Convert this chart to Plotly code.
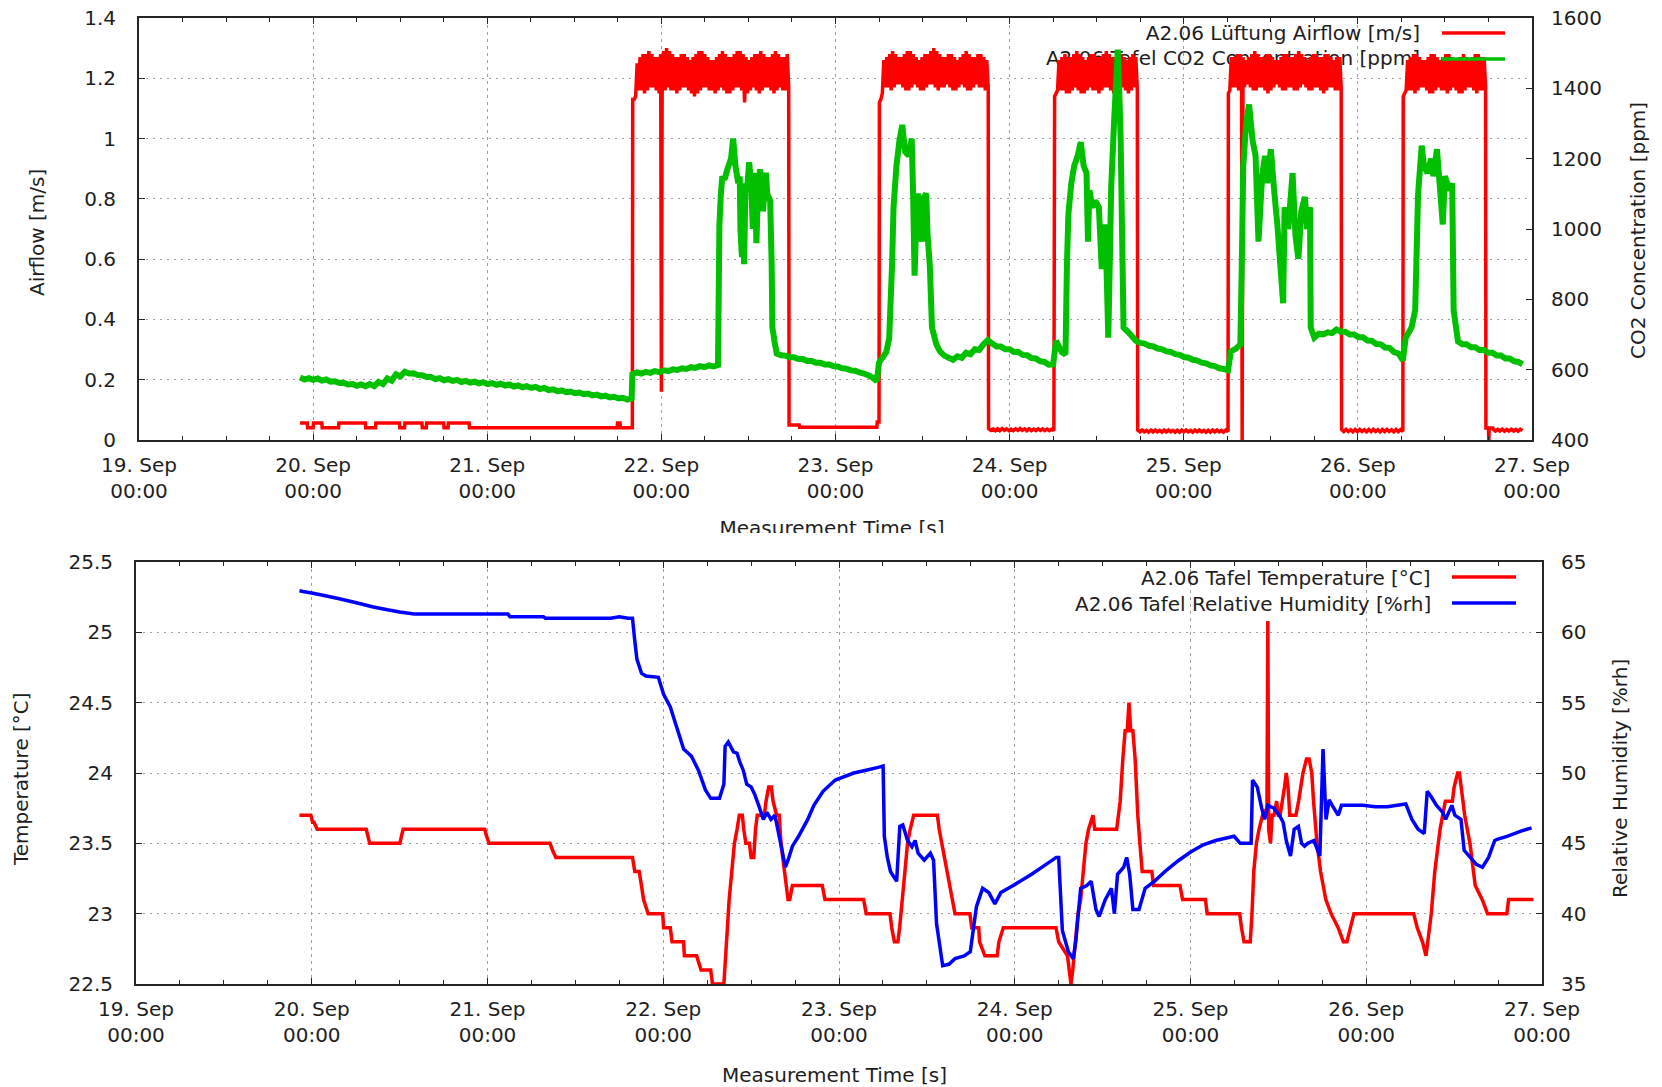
import numpy as np
import pandas as pd
import plotly.graph_objects as go

START = pd.Timestamp("2016-09-19 00:00:00")
END = pd.Timestamp("2016-09-27 00:00:00")

# ================= top panel: airflow (hours since 19 Sep 00:00, m/s) =================
# explicit points (steps, transitions, short dips)
AIRFLOW_POINTS = [
    (22.2, 0.056), (23.2, 0.056), (23.25, 0.041), (24.0, 0.041), (24.05, 0.056), (25.2, 0.056),
    (25.25, 0.041), (27.5, 0.041), (27.55, 0.056), (31.2, 0.056), (31.25, 0.041), (32.6, 0.041),
    (32.65, 0.056), (35.9, 0.056), (35.95, 0.041), (36.6, 0.041), (36.65, 0.056), (39.0, 0.056),
    (39.05, 0.041), (39.6, 0.041), (39.65, 0.056), (42.0, 0.056), (42.05, 0.041), (42.6, 0.041),
    (42.65, 0.056), (45.5, 0.056), (45.55, 0.041), (65.9, 0.041), (65.95, 0.056), (66.3, 0.056),
    (66.35, 0.041), (68.0, 0.041),
    (72.0, 0.16),
    (89.6, 0.05), (91.0, 0.05), (91.05, 0.042), (101.7, 0.042), (101.75, 0.06), (102.0, 0.06),
    (152.05, 0.0),
    (185.65, 0.04), (186.0, 0.04), (186.05, 0.0), (186.1, 0.04), (186.6, 0.04),
]
# noisy stretches: start hour, end hour, lead-in values, then alternating upper / lower excursions
AIRFLOW_SEG_START_H = [68.05, 102.05, 117.1, 126.2, 137.65, 150.15, 165.75, 174.25, 186.65]
AIRFLOW_SEG_END_H = [89.55, 117.05, 126.1, 137.6, 150.1, 165.7, 174.2, 185.6, 190.7]
AIRFLOW_SEG_LEAD = [[1.13, 1.13, 1.14], [1.12, 1.13, 1.15], [], [1.14, 1.15, 1.16], [],
                    [1.15, 1.16], [], [1.14, 1.15, 1.16], []]
AIRFLOW_SEG_HIGH = [
    [1.25, 1.27, 1.28, 1.28, 1.29, 1.28, 1.27, 1.27, 1.28, 1.29, 1.30, 1.29, 1.28, 1.27, 1.27, 1.28, 1.28, 1.27,
     1.26, 1.27, 1.28, 1.29, 1.29, 1.28, 1.27, 1.26, 1.26, 1.27, 1.28, 1.29, 1.28, 1.27, 1.27, 1.28, 1.29, 1.29,
     1.28, 1.27, 1.26, 1.27, 1.28, 1.28, 1.29, 1.28, 1.27, 1.27, 1.28, 1.29, 1.28, 1.27, 1.27, 1.28],
    [1.26, 1.27, 1.28, 1.29, 1.28, 1.27, 1.27, 1.28, 1.29, 1.29, 1.28, 1.27, 1.26, 1.27, 1.28, 1.28, 1.29, 1.30,
     1.29, 1.28, 1.27, 1.27, 1.28, 1.28, 1.27, 1.26, 1.27, 1.28, 1.29, 1.28, 1.27, 1.27, 1.28, 1.28, 1.27, 1.26],
    [0.038, 0.037, 0.037, 0.038, 0.037, 0.036, 0.037, 0.038, 0.037, 0.037, 0.036, 0.037, 0.037, 0.036, 0.036],
    [1.26, 1.27, 1.28, 1.27, 1.27, 1.28, 1.29, 1.28, 1.27, 1.26, 1.27, 1.28, 1.28, 1.27, 1.27, 1.28, 1.29, 1.28,
     1.27, 1.27, 1.28, 1.28, 1.27, 1.26, 1.27, 1.28, 1.27],
    [0.033, 0.033, 0.032, 0.033, 0.033, 0.032, 0.033, 0.033, 0.032, 0.032, 0.033, 0.033, 0.032, 0.033, 0.033,
     0.032, 0.032, 0.033, 0.033, 0.032, 0.033],
    [1.27, 1.27, 1.28, 1.28, 1.27, 1.26, 1.27, 1.28, 1.29, 1.28, 1.27, 1.27, 1.28, 1.28, 1.27, 1.26, 1.26, 1.27,
     1.28, 1.28, 1.27, 1.27, 1.28, 1.29, 1.28, 1.27, 1.26, 1.27, 1.28, 1.28, 1.27, 1.27, 1.28, 1.28, 1.27, 1.26,
     1.27, 1.27],
    [0.035, 0.035, 0.034, 0.035, 0.035, 0.034, 0.035, 0.035, 0.034, 0.035, 0.035, 0.034, 0.035, 0.035],
    [1.26, 1.27, 1.28, 1.28, 1.27, 1.26, 1.26, 1.27, 1.28, 1.28, 1.27, 1.26, 1.27, 1.28, 1.28, 1.27, 1.26, 1.26,
     1.27, 1.28, 1.27, 1.26, 1.27, 1.28, 1.28, 1.27, 1.27],
    [0.036, 0.035, 0.036, 0.035, 0.036, 0.035, 0.036],
]
AIRFLOW_SEG_LOW = [
    [1.16, 1.16, 1.15, 1.16, 1.17, 1.17, 1.16, 1.15, 1.15, 1.16, 1.17, 1.16, 1.16, 1.15, 1.16, 1.17, 1.17, 1.16,
     1.15, 1.14, 1.15, 1.16, 1.17, 1.17, 1.16, 1.16, 1.15, 1.16, 1.17, 1.16, 1.15, 1.15, 1.16, 1.17, 1.17, 1.16,
     1.12, 1.15, 1.16, 1.17, 1.16, 1.15, 1.16, 1.17, 1.17, 1.16, 1.15, 1.16, 1.17, 1.16, 1.16, 1.17],
    [1.17, 1.17, 1.16, 1.17, 1.18, 1.18, 1.17, 1.16, 1.16, 1.17, 1.18, 1.17, 1.16, 1.16, 1.17, 1.18, 1.18, 1.17,
     1.16, 1.17, 1.17, 1.18, 1.17, 1.16, 1.16, 1.17, 1.18, 1.17, 1.16, 1.16, 1.17, 1.18, 1.17, 1.17, 1.16, 1.17],
    [0.032, 0.031, 0.031, 0.032, 0.031, 0.031, 0.032, 0.032, 0.031, 0.031, 0.031, 0.032, 0.031, 0.031, 0.031],
    [1.16, 1.16, 1.15, 1.15, 1.16, 1.17, 1.16, 1.15, 1.15, 1.16, 1.17, 1.16, 1.16, 1.15, 1.16, 1.17, 1.17, 1.16,
     1.15, 1.16, 1.16, 1.17, 1.16, 1.15, 1.16, 1.17, 1.16],
    [0.027, 0.027, 0.026, 0.027, 0.027, 0.026, 0.027, 0.027, 0.026, 0.026, 0.027, 0.027, 0.026, 0.027, 0.027,
     0.026, 0.026, 0.027, 0.027, 0.026, 0.028],
    [1.17, 1.17, 1.16, 1.16, 1.17, 1.18, 1.17, 1.16, 1.16, 1.17, 1.17, 1.16, 1.15, 1.16, 1.17, 1.18, 1.17, 1.16,
     1.16, 1.17, 1.17, 1.16, 1.16, 1.17, 1.18, 1.17, 1.16, 1.16, 1.17, 1.17, 1.16, 1.15, 1.16, 1.17, 1.17, 1.16,
     1.16, 1.17],
    [0.028, 0.028, 0.027, 0.028, 0.028, 0.027, 0.028, 0.028, 0.027, 0.028, 0.028, 0.027, 0.028, 0.029],
    [1.16, 1.16, 1.15, 1.16, 1.17, 1.17, 1.16, 1.15, 1.15, 1.16, 1.17, 1.16, 1.16, 1.15, 1.16, 1.17, 1.16, 1.15,
     1.15, 1.16, 1.17, 1.17, 1.16, 1.15, 1.16, 1.16, 1.17],
    [0.030, 0.030, 0.029, 0.030, 0.030, 0.029, 0.031],
]

# ================= top panel: CO2 (hours, ppm) =================
CO2_POINTS = [
    (80.0, 1013), (80.2, 1100), (80.4, 1150), (80.7, 1140), (81.1, 1170), (81.6, 1200), (81.9, 1257),
    (82.2, 1180), (82.6, 1130), (82.8, 1150), (82.9, 1000), (83.1, 920), (83.2, 1080), (83.4, 900),
    (83.6, 1130), (83.8, 1110), (84.1, 1190), (84.4, 1120), (84.6, 1000), (84.9, 1160), (85.1, 960),
    (85.3, 1100), (85.6, 1170), (85.8, 1130), (86.0, 1050), (86.4, 1160), (86.6, 1100), (87.0, 1080),
    (87.2, 900), (87.3, 720), (87.6, 680),
    (102.0, 620), (103.0, 650), (103.4, 690), (103.8, 900), (104.0, 1062), (104.4, 1179), (104.8, 1250),
    (105.2, 1296), (105.6, 1220), (106.1, 1208), (106.5, 1257), (106.7, 1100), (106.9, 867), (107.1, 1000),
    (107.4, 1101), (107.6, 1050), (107.9, 964), (108.2, 1090), (108.5, 1101), (108.7, 980), (109.0, 896),
    (109.3, 720), (109.9, 672),
    (126.4, 682), (127.2, 650), (127.7, 643), (127.9, 900), (128.1, 1042), (128.5, 1130), (128.9, 1179),
    (129.4, 1210), (129.8, 1247), (130.2, 1180), (130.6, 1159), (130.8, 964), (131.0, 1110), (131.4, 1062),
    (131.8, 1080), (132.3, 1062), (132.7, 886), (133.2, 1013), (133.6, 691), (133.8, 900), (134.0, 1120),
    (134.4, 1305), (134.9, 1510), (135.1, 1400), (135.3, 1257), (135.7, 720), (136.6, 701),
    (150.5, 652), (151.2, 660), (151.8, 672),
    (152.0, 900), (152.2, 1179), (152.6, 1300), (153.0, 1354), (153.5, 1250), (153.9, 1208), (154.3, 964),
    (154.8, 1150), (155.2, 1208), (155.5, 1130), (156.0, 1227), (156.5, 1100), (156.9, 1013), (157.3, 900),
    (157.7, 789), (157.9, 1062), (158.4, 1000), (159.0, 1159), (159.4, 980), (159.8, 915), (160.2, 1050),
    (160.7, 1091), (161.0, 1000), (161.4, 1062), (161.5, 720),
    (174.6, 691), (175.4, 720), (175.9, 769),
    (176.3, 1100), (176.8, 1237), (177.1, 1180), (177.6, 1159), (178.1, 1200), (178.4, 1150), (178.9, 1227),
    (179.3, 1120), (179.7, 1013), (180.0, 1150), (180.6, 1110), (181.0, 1130), (181.2, 769),
]
CO2_SEG_START_H = [22.2, 68.0, 87.9, 110.4, 137.4, 162.0, 181.8]
CO2_SEG_END_H = [67.9, 79.8, 101.7, 126.0, 150.1, 174.2, 190.7]
CO2_QUIET_1 = [
    578, 572, 576, 571, 575, 569, 572, 566, 567, 562, 563, 558, 559, 554, 558, 553, 559, 553, 565, 559,
    575, 569, 587, 581, 594, 589, 590, 585, 584, 579, 579, 573, 576, 570, 573, 568, 571, 565, 568, 563,
    566, 561, 564, 559, 562, 557, 560, 555, 558, 552, 555, 550, 553, 548, 551, 545, 548, 542, 544, 539,
    541, 536, 538, 533, 535, 530, 532, 527, 529, 524, 526, 521, 523, 518, 520, 515, 518]
CO2_QUIET_2 = [587, 592, 589, 594, 591, 596, 593, 598, 596, 601, 599, 604, 602, 607, 605, 610, 607, 612, 609, 613]
CO2_QUIET_3 = [646, 641, 640, 635, 635, 630, 630, 625, 625, 620, 620, 615, 615, 610, 609, 604, 603, 598, 597, 592,
               589, 584, 578, 567]
CO2_QUIET_4 = [652, 640, 634, 628, 638, 634, 648, 644, 658, 656, 672, 684, 674, 666, 666, 658, 658, 650, 650, 642,
               641, 633, 632, 624, 622, 614, 615]
CO2_QUIET_5 = [682, 676, 674, 668, 666, 660, 658, 652, 650, 644, 642, 636, 634, 628, 626, 620, 618, 612, 610, 604,
               602, 598]
CO2_QUIET_6 = [691, 702, 700, 706, 704, 714, 708, 708, 700, 700, 692, 692, 683, 682, 673, 672, 663, 662, 650, 646,
               626]
CO2_QUIET_7 = [680, 672, 672, 664, 664, 656, 656, 648, 648, 640, 640, 632, 632, 624, 622, 615]

# ================= bottom panel: temperature (days since 19 Sep 00:00, degC) =================
TEMPERATURE = [
    (0.930, 23.7), (0.995, 23.7), (1.005, 23.65), (1.013, 23.65), (1.031, 23.6), (1.310, 23.6),
    (1.320, 23.55), (1.330, 23.5), (1.502, 23.5), (1.510, 23.55), (1.520, 23.6), (1.984, 23.6),
    (1.995, 23.55), (2.009, 23.5), (2.356, 23.5), (2.370, 23.45), (2.389, 23.4), (2.825, 23.4),
    (2.838, 23.3), (2.863, 23.3), (2.876, 23.2), (2.888, 23.1), (2.914, 23.0), (2.997, 23.0),
    (3.002, 22.9), (3.040, 22.9), (3.050, 22.8), (3.116, 22.8), (3.120, 22.7), (3.190, 22.7),
    (3.215, 22.6), (3.270, 22.6), (3.280, 22.5), (3.345, 22.5), (3.360, 22.8), (3.375, 23.1),
    (3.390, 23.3), (3.405, 23.5), (3.420, 23.6), (3.433, 23.7), (3.450, 23.7), (3.458, 23.6),
    (3.470, 23.5), (3.490, 23.5), (3.500, 23.4), (3.515, 23.4), (3.525, 23.6), (3.535, 23.7),
    (3.575, 23.7), (3.585, 23.8), (3.600, 23.9), (3.615, 23.9), (3.625, 23.8), (3.645, 23.7),
    (3.660, 23.7), (3.670, 23.5), (3.690, 23.3), (3.710, 23.1), (3.720, 23.1), (3.735, 23.2),
    (3.905, 23.2), (3.920, 23.1), (4.140, 23.1), (4.155, 23.0), (4.290, 23.0), (4.300, 22.9),
    (4.315, 22.8), (4.335, 22.8), (4.345, 22.9), (4.360, 23.1), (4.375, 23.3), (4.390, 23.5),
    (4.405, 23.6), (4.425, 23.7), (4.560, 23.7), (4.570, 23.6), (4.585, 23.5), (4.600, 23.4),
    (4.615, 23.3), (4.630, 23.2), (4.645, 23.1), (4.660, 23.0), (4.745, 23.0), (4.755, 22.9),
    (4.795, 22.9), (4.800, 22.8), (4.830, 22.7), (4.900, 22.7), (4.910, 22.8), (4.935, 22.9),
    (5.235, 22.9), (5.250, 22.8), (5.300, 22.7), (5.310, 22.6), (5.320, 22.5), (5.330, 22.6),
    (5.345, 22.8), (5.360, 23.0), (5.375, 23.1), (5.390, 23.3), (5.405, 23.5), (5.420, 23.6),
    (5.445, 23.7), (5.455, 23.6), (5.580, 23.6), (5.590, 23.7), (5.600, 23.8), (5.615, 24.1),
    (5.628, 24.3), (5.640, 24.3), (5.650, 24.5), (5.660, 24.3), (5.672, 24.3), (5.685, 24.1),
    (5.700, 23.7), (5.712, 23.5), (5.725, 23.3), (5.780, 23.3), (5.790, 23.2), (5.940, 23.2),
    (5.955, 23.1), (6.085, 23.1), (6.095, 23.0), (6.280, 23.0), (6.290, 22.9), (6.305, 22.8),
    (6.340, 22.8), (6.350, 23.0), (6.360, 23.3), (6.375, 23.5), (6.390, 23.6), (6.410, 23.7),
    (6.435, 23.75), (6.440, 25.08), (6.445, 23.6), (6.455, 23.5), (6.465, 23.7), (6.475, 23.7),
    (6.490, 23.8), (6.500, 23.7), (6.510, 23.7), (6.535, 23.9), (6.545, 24.0), (6.555, 23.9),
    (6.565, 23.7), (6.600, 23.7), (6.615, 23.8), (6.640, 24.0), (6.660, 24.1), (6.675, 24.1),
    (6.690, 24.0), (6.700, 23.8), (6.720, 23.5), (6.740, 23.3), (6.770, 23.1), (6.800, 23.0),
    (6.840, 22.9), (6.870, 22.8), (6.890, 22.8), (6.910, 22.9), (6.930, 23.0), (7.270, 23.0),
    (7.290, 22.9), (7.320, 22.8), (7.340, 22.7), (7.350, 22.8), (7.370, 23.0), (7.390, 23.3),
    (7.420, 23.6), (7.450, 23.8), (7.490, 23.8), (7.500, 23.9), (7.520, 24.0), (7.530, 24.0),
    (7.540, 23.9), (7.560, 23.7), (7.590, 23.5), (7.620, 23.2), (7.660, 23.1), (7.690, 23.0),
    (7.800, 23.0), (7.810, 23.1), (7.951, 23.1),
]

# ================= bottom panel: relative humidity (days, %rh) =================
HUMIDITY = [
    (0.930, 62.95), (0.950, 62.9), (1.000, 62.8), (1.077, 62.6), (1.150, 62.4), (1.254, 62.1),
    (1.350, 61.8), (1.431, 61.6), (1.500, 61.45), (1.583, 61.3), (2.116, 61.3), (2.128, 61.1),
    (2.318, 61.1), (2.330, 61.0), (2.700, 61.0), (2.750, 61.1), (2.800, 61.0), (2.825, 61.0),
    (2.838, 59.4), (2.850, 58.1), (2.876, 57.1), (2.901, 56.9), (2.972, 56.8), (3.002, 55.6),
    (3.040, 54.7), (3.078, 53.2), (3.116, 51.7), (3.142, 51.4), (3.160, 51.2), (3.200, 50.2),
    (3.240, 48.8), (3.270, 48.2), (3.320, 48.2), (3.345, 49.2), (3.352, 51.9), (3.370, 52.2),
    (3.400, 51.5), (3.420, 51.4), (3.435, 50.8), (3.455, 50.2), (3.475, 49.2), (3.500, 49.0),
    (3.520, 48.5), (3.543, 47.7), (3.570, 46.7), (3.590, 47.2), (3.613, 46.7), (3.635, 47.0),
    (3.660, 45.5), (3.695, 43.3), (3.710, 43.8), (3.735, 44.8), (3.770, 45.5), (3.822, 46.7),
    (3.857, 47.7), (3.909, 48.7), (3.979, 49.5), (4.084, 50.0), (4.154, 50.2), (4.223, 50.4),
    (4.251, 50.5), (4.258, 45.5), (4.275, 44.0), (4.293, 43.0), (4.328, 42.3), (4.346, 46.2),
    (4.363, 46.3), (4.390, 45.2), (4.415, 44.75), (4.433, 45.2), (4.450, 44.3), (4.485, 43.8),
    (4.520, 44.3), (4.538, 43.8), (4.555, 39.3), (4.590, 36.3), (4.625, 36.4), (4.660, 36.8),
    (4.712, 37.0), (4.747, 37.3), (4.782, 40.5), (4.817, 41.8), (4.852, 41.5), (4.887, 40.7),
    (4.921, 41.5), (4.991, 42.0), (5.096, 42.8), (5.166, 43.4), (5.236, 44.0), (5.250, 44.0),
    (5.271, 38.8), (5.305, 37.3), (5.333, 36.8), (5.347, 38.0), (5.375, 41.8), (5.410, 42.0),
    (5.435, 42.3), (5.462, 40.3), (5.480, 39.8), (5.515, 41.0), (5.550, 41.8), (5.567, 40.0),
    (5.585, 42.8), (5.620, 43.3), (5.637, 44.0), (5.654, 42.8), (5.672, 40.3), (5.707, 40.3),
    (5.742, 41.8), (5.794, 42.3), (5.864, 43.1), (5.934, 43.8), (6.003, 44.4), (6.073, 44.9),
    (6.143, 45.2), (6.248, 45.5), (6.283, 45.0), (6.345, 45.0), (6.353, 49.5), (6.380, 49.0),
    (6.405, 47.5), (6.422, 46.7), (6.440, 47.7), (6.475, 47.5), (6.492, 47.2), (6.510, 46.9),
    (6.527, 46.5), (6.545, 45.2), (6.569, 44.1), (6.590, 46.0), (6.614, 46.2), (6.632, 45.0),
    (6.649, 44.8), (6.667, 45.0), (6.702, 45.2), (6.736, 44.1), (6.754, 51.7), (6.771, 46.7),
    (6.789, 48.1), (6.806, 47.7), (6.841, 47.0), (6.859, 47.7), (6.894, 47.7), (6.981, 47.7),
    (7.051, 47.6), (7.120, 47.6), (7.225, 47.8), (7.260, 46.7), (7.295, 46.0), (7.330, 45.7),
    (7.347, 48.7), (7.365, 48.4), (7.400, 47.7), (7.435, 47.2), (7.452, 46.7), (7.469, 47.2),
    (7.487, 47.7), (7.504, 47.0), (7.539, 46.7), (7.557, 44.5), (7.592, 44.0), (7.626, 43.5),
    (7.661, 43.3), (7.696, 44.0), (7.731, 45.2), (7.749, 45.3), (7.801, 45.5), (7.888, 45.9),
    (7.941, 46.1),
]

TOP_LEGEND = ["A2.06 Lüftung Airflow [m/s]", "A2.06 Tafel CO2 Concentration [ppm]"]
BOTTOM_LEGEND = ["A2.06 Tafel Temperature [°C]", "A2.06 Tafel Relative Humidity [%rh]"]

# ================= assemble =================
W, H = 1662, 1087
FONT = "DejaVu Sans"
TXT = "#1e1e1e"
AXC = "#262626"
RED, GREEN, BLUE = "#ff0000", "#00c000", "#0000ff"


def px(x):
    return x / W


def py(y):
    return 1 - y / H


def hours_to_time(h):
    return START + pd.to_timedelta(np.asarray(h, dtype=float), unit="h")


def days_to_time(d):
    return START + pd.to_timedelta(np.asarray(d, dtype=float), unit="D")


def build(points, starts, ends, segments):
    pts = list(points)
    for s, e, vals in zip(starts, ends, segments):
        pts += list(zip(np.linspace(s, e, len(vals)), vals))
    pts.sort(key=lambda p: p[0])
    return zip(*pts)


air_segments = []
for lead, hi, lo in zip(AIRFLOW_SEG_LEAD, AIRFLOW_SEG_HIGH, AIRFLOW_SEG_LOW):
    seq = list(lead)
    for a, b in zip(hi, lo):
        seq += [a, b]
    air_segments.append(seq)

air_h, air_v = build(AIRFLOW_POINTS, AIRFLOW_SEG_START_H, AIRFLOW_SEG_END_H, air_segments)
co2_h, co2_v = build(CO2_POINTS, CO2_SEG_START_H, CO2_SEG_END_H,
                     [CO2_QUIET_1, CO2_QUIET_2, CO2_QUIET_3, CO2_QUIET_4, CO2_QUIET_5, CO2_QUIET_6,
                      CO2_QUIET_7])
t_d, t_v = zip(*TEMPERATURE)
rh_d, rh_v = zip(*HUMIDITY)

fig = go.Figure()

# top legend text drawn first so the data lies over it (as in the reference)
top_leg_h = (1420 - 139) / 1393 * 8 * 24
fig.add_trace(go.Scatter(
    x=hours_to_time([top_leg_h, top_leg_h]), y=[1.343, 1.260], mode="text", text=TOP_LEGEND,
    textposition="middle left", textfont=dict(family=FONT, size=20, color=TXT),
    xaxis="x", yaxis="y", showlegend=False, hoverinfo="skip"))
fig.add_trace(go.Scatter(x=hours_to_time(air_h), y=air_v, mode="lines",
                         line=dict(color=RED, width=3.5, simplify=False), xaxis="x", yaxis="y",
                         showlegend=False, name=TOP_LEGEND[0]))
fig.add_trace(go.Scatter(x=hours_to_time(co2_h), y=co2_v, mode="lines",
                         line=dict(color=GREEN, width=6, simplify=False), xaxis="x", yaxis="y2",
                         showlegend=False, name=TOP_LEGEND[1]))
fig.add_trace(go.Scatter(x=days_to_time(t_d), y=t_v, mode="lines",
                         line=dict(color=RED, width=3.5, simplify=False), xaxis="x2", yaxis="y3",
                         showlegend=False, name=BOTTOM_LEGEND[0]))
fig.add_trace(go.Scatter(x=days_to_time(rh_d), y=rh_v, mode="lines",
                         line=dict(color=BLUE, width=3.5, simplify=False), xaxis="x2", yaxis="y4",
                         showlegend=False, name=BOTTOM_LEGEND[1]))
# top x-axis title, its lower part clipped like in the reference
fig.add_trace(go.Scatter(x=[(832 - 139) / 1393], y=[(533 - 530) / 33], mode="text",
                         text=["Measurement Time [s]"], textposition="middle center",
                         textfont=dict(family=FONT, size=20, color=TXT), cliponaxis=True,
                         xaxis="x3", yaxis="y5", showlegend=False, hoverinfo="skip"))

tickfont = dict(family=FONT, size=20, color=TXT)


def xaxis(domain, anchor):
    return dict(
        domain=domain, anchor=anchor, type="date", range=[START, END],
        tick0=START, dtick=86400000, tickformat="%d. %b<br>%H:%M",
        ticks="inside", ticklen=6, tickwidth=1.2, tickcolor=AXC,
        showline=True, linewidth=2, linecolor=AXC, mirror="ticks",
        showgrid=True, gridcolor="#a0a0a0", gridwidth=1, griddash="3px,4px",
        minor=dict(tick0=START, dtick=21600000, ticks="inside", ticklen=4, tickwidth=1.2,
                   tickcolor=AXC, showgrid=False),
        tickfont=tickfont, zeroline=False, automargin=False, ticklabelstandoff=6,
    )


def yleft(domain, anchor, rng, dtick):
    return dict(
        domain=domain, anchor=anchor, range=rng, dtick=dtick, tick0=rng[0],
        ticks="inside", ticklen=6, tickwidth=1.2, tickcolor=AXC,
        showline=True, linewidth=2, linecolor=AXC, mirror=True,
        showgrid=True, gridcolor="#a0a0a0", gridwidth=1, griddash="2px,5px",
        tickfont=tickfont, zeroline=False, automargin=False, ticklabelstandoff=17,
    )


def yright(over, anchor, rng, dtick):
    return dict(
        overlaying=over, anchor=anchor, side="right", range=rng, dtick=dtick, tick0=rng[0],
        ticks="inside", ticklen=6, tickwidth=1.2, tickcolor=AXC,
        showline=False, showgrid=False, zeroline=False,
        tickfont=tickfont, automargin=False, ticklabelstandoff=18,
    )


top_x = [px(139), px(1532)]
top_y = [py(440), py(18)]
bot_x = [px(136), px(1542)]
bot_y = [py(984), py(562)]

shapes = [
    dict(type="line", xref="paper", yref="paper", x0=px(1442), x1=px(1505), y0=py(33), y1=py(33),
         line=dict(color=RED, width=3.5)),
    dict(type="line", xref="paper", yref="paper", x0=px(1442), x1=px(1505), y0=py(59), y1=py(59),
         line=dict(color=GREEN, width=3.5)),
    dict(type="line", xref="paper", yref="paper", x0=px(1452), x1=px(1516), y0=py(577), y1=py(577),
         line=dict(color=RED, width=3.5)),
    dict(type="line", xref="paper", yref="paper", x0=px(1452), x1=px(1516), y0=py(603), y1=py(603),
         line=dict(color=BLUE, width=3.5)),
]

annotations = [
    dict(text=BOTTOM_LEGEND[0], xref="paper", yref="paper", x=px(1433), y=py(578),
         xanchor="right", yanchor="middle", showarrow=False, font=tickfont),
    dict(text=BOTTOM_LEGEND[1], xref="paper", yref="paper", x=px(1433), y=py(604),
         xanchor="right", yanchor="middle", showarrow=False, font=tickfont),
    dict(text="Airflow [m/s]", xref="paper", yref="paper", x=px(37), y=py(233), textangle=-90,
         xanchor="center", yanchor="middle", showarrow=False, font=tickfont),
    dict(text="CO2 Concentration [ppm]", xref="paper", yref="paper", x=px(1638), y=py(231),
         textangle=-90, xanchor="center", yanchor="middle", showarrow=False, font=tickfont),
    dict(text="Temperature [°C]", xref="paper", yref="paper", x=px(21), y=py(779), textangle=-90,
         xanchor="center", yanchor="middle", showarrow=False, font=tickfont),
    dict(text="Relative Humidity [%rh]", xref="paper", yref="paper", x=px(1620), y=py(779),
         textangle=-90, xanchor="center", yanchor="middle", showarrow=False, font=tickfont),
    dict(text="Measurement Time [s]", xref="paper", yref="paper", x=px(834), y=py(1075),
         xanchor="center", yanchor="middle", showarrow=False, font=tickfont),
]

fig.update_layout(
    width=W, height=H, margin=dict(l=0, r=0, t=0, b=0),
    paper_bgcolor="white", plot_bgcolor="white", showlegend=False,
    font=dict(family=FONT, size=20, color=TXT),
    xaxis=xaxis(top_x, "y"),
    yaxis=yleft(top_y, "x", [0, 1.4], 0.2),
    yaxis2=yright("y", "x", [400, 1600], 200),
    xaxis2=xaxis(bot_x, "y3"),
    yaxis3=yleft(bot_y, "x2", [22.5, 25.5], 0.5),
    yaxis4=yright("y3", "x2", [35, 65], 5),
    xaxis3=dict(domain=top_x, anchor="y5", range=[0, 1], visible=False, fixedrange=True),
    yaxis5=dict(domain=[py(533), py(500)], anchor="x3", range=[0, 1], visible=False, fixedrange=True),
    shapes=shapes, annotations=annotations,
)

fig.write_html("out.html")
